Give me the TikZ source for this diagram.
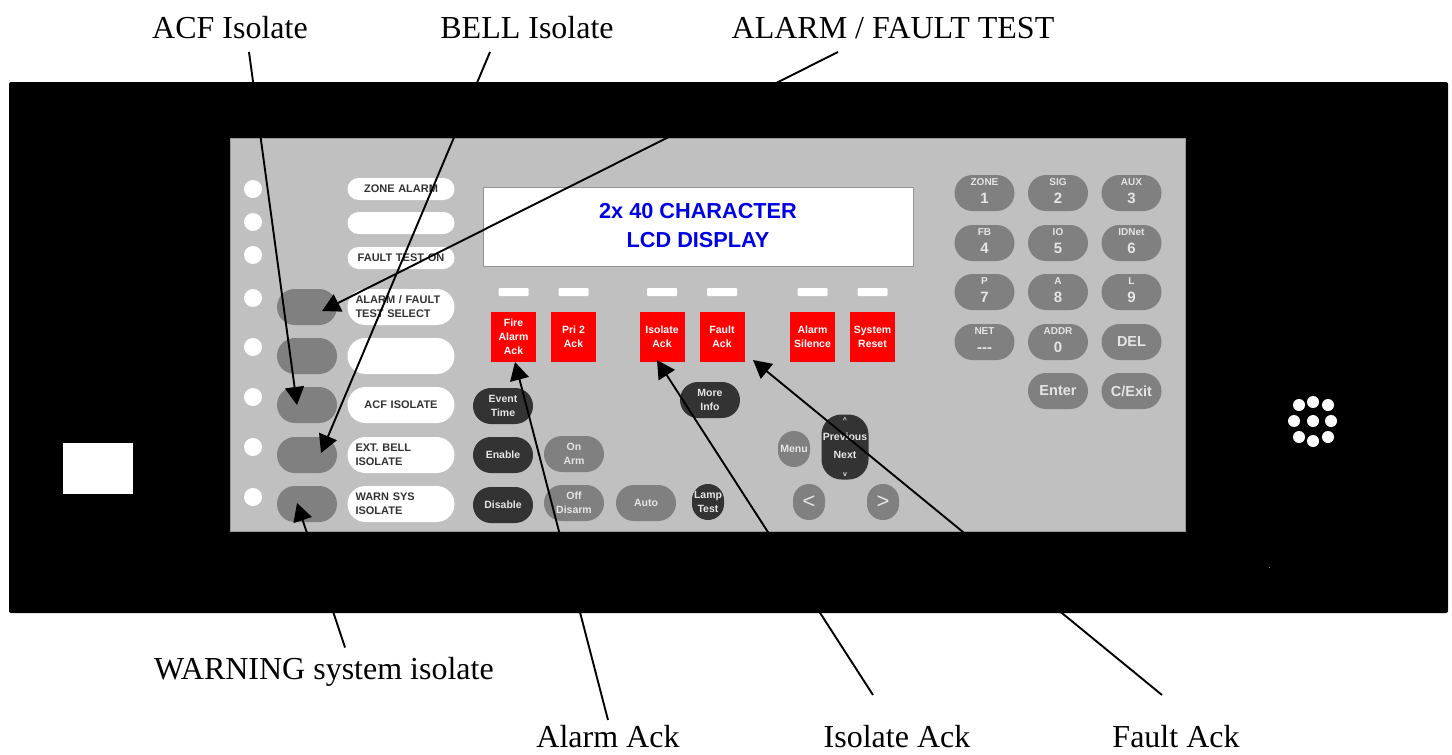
\documentclass[tikz,border=0pt]{standalone}
\usepackage{fontspec}
\setmainfont{Liberation Serif}
\setsansfont{Liberation Sans}
\usetikzlibrary{arrows.meta}
\definecolor{panelgray}{HTML}{C0C0C0}
\definecolor{keygray}{HTML}{808080}
\definecolor{keydark}{HTML}{333333}
\newcommand{\padfont}{\fontsize{10}{11}\selectfont}
\tikzset{
	callout/.style={inner sep=0pt, outer ysep=7pt, text height=24pt, text depth=7pt, font=\rmfamily\fontsize{32}{36}\selectfont},
	lowcallout/.style={callout, text depth=1pt},
	pointer/.style={line width=1.9pt, -{Triangle[length=18pt, width=19pt]}},
	led/.style={circle, fill=white, inner sep=0pt, minimum size=18pt},
	softkey/.style={fill=keygray, rounded corners=17.9pt, inner sep=0pt, minimum width=60pt, minimum height=36pt},
	labelpill/.style={fill=white, rounded corners=11pt, inner ysep=0pt, inner xsep=8pt, text width=91pt, minimum height=22pt, align=left, text=keydark, font=\sffamily\bfseries\fontsize{11}{14}\selectfont},
	tallpill/.style={labelpill, rounded corners=17.9pt, minimum height=36pt},
	redkey/.style={fill=red, inner sep=0pt, minimum height=50pt, minimum width=45pt, align=center, text=white, font=\sffamily\bfseries\fontsize{10.5}{14}\selectfont},
	lampbar/.style={fill=white, rounded corners=1pt, inner sep=0pt, minimum width=30pt, minimum height=8pt},
	darkkey/.style={softkey, fill=keydark, align=center, text=white!90!black, font=\sffamily\bfseries\fontsize{10.5}{14}\selectfont},
	graykey/.style={darkkey, fill=keygray},
	roundkey/.style={minimum width=32pt, rounded corners=15.9pt},
	padkey/.style={graykey, text depth=3pt, font=\sffamily\bfseries\fontsize{15}{15}\selectfont},
	padword/.style={graykey, font=\sffamily\bfseries\fontsize{14.5}{15}\selectfont},
	speakerhole/.style={circle, fill=white, inner sep=0pt, minimum size=12pt}
}
\begin{document}
\begin{tikzpicture}[x=1pt, y=-1pt]
	\useasboundingbox (0,0) rectangle (1452,755);
	%housing and faceplate
	\fill[black, rounded corners=2pt] (9,82) rectangle (1448,613);
	\filldraw[fill=panelgray, draw=keygray!60!panelgray, line width=0.8pt] (230,138) rectangle (1185,531);
	\fill[white] (63,443) rectangle (133,494);
	\fill[gray] (1268.5,566.5) rectangle (1269.5,567.5);

	%status lamps
	\foreach \y [count=\i] in {189, 222, 255, 298, 347, 397, 447, 497}{
		\node[led] (led\i) at (253, \y){};
	}

	%grey keys at the left
	\node[softkey] (keyfault) at (307, 307){};
	\node[softkey] (keyspare) at (307, 356){};
	\node[softkey] (keyacf) at (307, 405){};
	\node[softkey] (keybell) at (307, 455){};
	\node[softkey] (keywarn) at (307, 504){};

	%white text strips
	\node[labelpill, align=center] (pillzone) at (401, 189){ZONE ALARM};
	\node[labelpill] (pillblank) at (401, 223){};
	\node[labelpill, align=center] (pilltest) at (401, 258){FAULT TEST ON};
	\node[tallpill] (pillfault) at (401, 307){ALARM / FAULT\\TEST SELECT};
	\node[tallpill] (pillspare) at (401, 356){};
	\node[tallpill, align=center] (pillacf) at (401, 405){ACF ISOLATE};
	\node[tallpill] (pillbell) at (401, 455){EXT. BELL\\ISOLATE};
	\node[tallpill] (pillwarn) at (401, 504){WARN SYS\\ISOLATE};

	%display
	\node[draw=keygray!70!panelgray, fill=white, line width=1pt, minimum width=430pt, minimum height=79pt, inner sep=0pt, align=center, text depth=3pt, text=blue!90!black, font=\sffamily\bfseries\fontsize{21.7}{29}\selectfont] (lcd) at (698, 226.5){2x 40 CHARACTER\\LCD DISPLAY};

	%red keys with their bars
	\foreach \x/\name/\txt in {513.5/fire/Fire\\Alarm\\Ack, 573.5/pri/Pri 2\\Ack, 662/isolate/Isolate\\Ack, 722/fault/Fault\\Ack, 812.5/silence/Alarm\\Silence, 872.5/reset/System\\Reset}{
		\node[lampbar] (bar\name) at (\x, 292){};
		\node[redkey] (red\name) at (\x, 337){\txt};
	}

	%dark and grey function keys
	\node[darkkey] (keyevent) at (503, 406){Event\\Time};
	\node[darkkey] (keyenable) at (503, 455){Enable};
	\node[darkkey] (keydisable) at (503, 505){Disable};
	\node[graykey] (keyon) at (574, 454){On\\Arm};
	\node[graykey] (keyoff) at (574, 503){Off\\Disarm};
	\node[graykey] (keyauto) at (646, 503){Auto};
	\node[darkkey, roundkey] (keylamp) at (708, 502){Lamp\\Test};
	\node[darkkey] (keyinfo) at (710, 400){More\\Info};
	\node[graykey, roundkey] (keymenu) at (794, 449){Menu};
	\node[darkkey, minimum width=47pt, minimum height=65pt, rounded corners=20pt, font=\sffamily\bfseries\fontsize{10.5}{18}\selectfont] (keyprev) at (845, 447){\fontsize{7}{15}\selectfont\^{}\\Previous\\Next\\\fontsize{7}{15}\selectfont v};
	\node[graykey, roundkey, font=\sffamily\fontsize{22}{22}\selectfont] (keyleft) at (809, 502){<};
	\node[graykey, roundkey, font=\sffamily\fontsize{22}{22}\selectfont] (keyright) at (883, 502){>};

	%number pad
	\foreach \x/\y/\toptxt/\digit [count=\i] in {984.5/193/ZONE/1, 1058/193/SIG/2, 1131.5/193/AUX/3, 984.5/243/FB/4, 1058/243/IO/5, 1131.5/243/IDNet/6, 984.5/292/P/7, 1058/292/A/8, 1131.5/292/L/9, 984.5/342/NET/{-{}-{}-}, 1058/342/ADDR/0}{
		\node[padkey] (pad\i) at (\x, \y){{\padfont\toptxt}\\[3pt]\digit};
	}
	\node[padword] (paddel) at (1131.5, 342){DEL};
	\node[padword] (padenter) at (1058, 391){Enter};
	\node[padword] (padexit) at (1131.5, 391){C/Exit};

	%speaker
	\foreach \x/\y [count=\i] in {1299/405, 1313/402, 1328/405, 1294/421, 1313/421, 1331/421, 1299/437, 1313/441, 1328/437}{
		\node[speakerhole] (hole\i) at (\x, \y){};
	}

	%callouts
	\node[callout] (lblacf) at (230, 29.5){ACF Isolate};
	\node[callout] (lblbell) at (527, 29.5){BELL Isolate};
	\node[callout] (lbltest) at (893, 29.5){ALARM / FAULT TEST};
	\node[callout] (lblwarn) at (324, 671){WARNING system isolate};
	\node[lowcallout] (lblalarm) at (608, 736){Alarm Ack};
	\node[lowcallout] (lblisolate) at (897, 736){Isolate Ack};
	\node[lowcallout] (lblfault) at (1176, 736){Fault Ack};

	\draw[pointer] ([xshift=19pt]lblacf.south) -- ([xshift=-10pt]keyacf.center);
	\draw[pointer] ([xshift=-37pt]lblbell.south) -- ([xshift=14pt, yshift=2pt]keybell.center);
	\draw[pointer] ([xshift=-55pt]lbltest.south) -- ([xshift=15pt, yshift=-4pt]keyfault.center);
	\draw[pointer] ([xshift=21pt, yshift=1pt]lblwarn.north) -- ([xshift=-10pt, yshift=1pt]keywarn.center);
	\draw[pointer] ([yshift=-3.5pt]lblalarm.north) -- ([xshift=1.5pt, yshift=-25pt]redfire.center);
	\draw[pointer] ([xshift=-24pt, yshift=21.5pt]lblisolate.north) -- ([xshift=-5pt, yshift=-23pt]redisolate.center);
	\draw[pointer] ([xshift=-14pt, yshift=21.5pt]lblfault.north) -- ([xshift=31pt, yshift=-23pt]redfault.center);
\end{tikzpicture}
\end{document}
